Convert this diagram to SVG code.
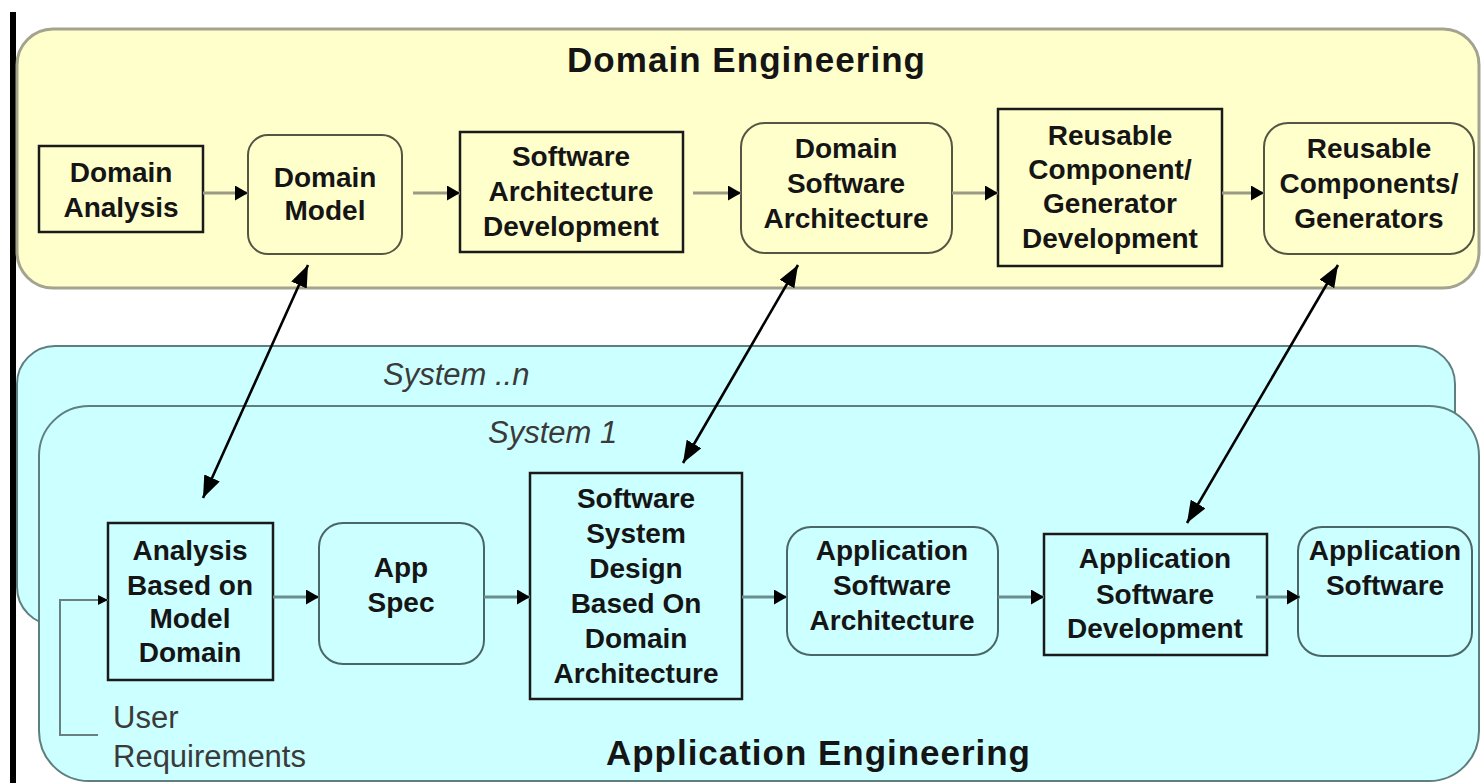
<svg xmlns="http://www.w3.org/2000/svg" width="1481" height="783" viewBox="0 0 1481 783">
<defs>
<style>
.lbl{font-family:"Liberation Sans",Arial,sans-serif;font-weight:bold;font-size:28px;fill:#151515;text-anchor:middle}
.title{font-family:"Liberation Sans",Arial,sans-serif;font-weight:bold;font-size:35px;fill:#151515}
.ital{font-family:"Liberation Sans",Arial,sans-serif;font-style:italic;font-size:31px;fill:#3a3a3a}
.req{font-family:"Liberation Sans",Arial,sans-serif;font-size:31px;fill:#3a3a3a}
.box{stroke:#1a1a1a;stroke-width:2.5}
.ybox{fill:#FFFFCC}
.cbox{fill:#CCFFFF}
.rnd{stroke:#555544;stroke-width:2}
.rndc{stroke:#4a6666;stroke-width:2}
.flowY{stroke:#9a9a86;stroke-width:3;fill:none}
.flowC{stroke:#6a8e8e;stroke-width:3;fill:none}
.bi{stroke:#000;stroke-width:2.6;fill:none}
</style>
<marker id="ah" viewBox="0 0 13 15" refX="13" refY="7.5" markerWidth="13" markerHeight="15" markerUnits="userSpaceOnUse" orient="auto"><path d="M0,0 L13,7.5 L0,15 z" fill="#000"/></marker>
<marker id="ahs" viewBox="0 0 10 10" refX="10" refY="5" markerWidth="10" markerHeight="10" markerUnits="userSpaceOnUse" orient="auto"><path d="M0,0 L10,5 L0,10 z" fill="#000"/></marker>
<marker id="big" viewBox="0 0 22 17" refX="22" refY="8.5" markerWidth="22" markerHeight="17" markerUnits="userSpaceOnUse" orient="auto-start-reverse"><path d="M0,0 L22,8.5 L0,17 z" fill="#000"/></marker>
</defs>
<rect width="1481" height="783" fill="#fff"/>
<rect x="10" y="12" width="6" height="771" fill="#000"/>

<g id="domain-engineering">
<rect x="17" y="29" width="1462" height="259" rx="36" ry="36" fill="#FFFFCC" stroke="#a3a38f" stroke-width="3"/>
<text class="title" x="567" y="72" textLength="358" lengthAdjust="spacing">Domain Engineering</text>
</g>

<g id="system-n">
<rect x="17" y="346" width="1438" height="279" rx="38" ry="38" fill="#CCFFFF" stroke="#5f7f7f" stroke-width="2"/>
<text class="ital" x="383" y="385">System ..n</text>
</g>

<g id="system-1">
<rect x="39" y="406" width="1440" height="375" rx="50" ry="50" fill="#CCFFFF" stroke="#5f7f7f" stroke-width="2"/>
<text class="ital" x="488" y="443">System 1</text>
<text class="title" x="606" y="765" textLength="424" lengthAdjust="spacing">Application Engineering</text>
</g>

<g id="domain-analysis">
<rect class="box ybox" x="39" y="146" width="164" height="86"/>
<text class="lbl" x="121" y="182">Domain</text>
<text class="lbl" x="121" y="217">Analysis</text>
</g>
<g id="domain-model">
<rect class="rnd ybox" x="248" y="135" width="154" height="119" rx="20"/>
<text class="lbl" x="325" y="187">Domain</text>
<text class="lbl" x="325" y="220">Model</text>
</g>
<g id="sw-arch-dev">
<rect class="box ybox" x="460" y="132" width="223" height="120"/>
<text class="lbl" x="571" y="166">Software</text>
<text class="lbl" x="571" y="201">Architecture</text>
<text class="lbl" x="571" y="236">Development</text>
</g>
<g id="domain-sw-arch">
<rect class="rnd ybox" x="741" y="123" width="211" height="130" rx="24"/>
<text class="lbl" x="846" y="158">Domain</text>
<text class="lbl" x="846" y="193">Software</text>
<text class="lbl" x="846" y="228">Architecture</text>
</g>
<g id="reusable-dev">
<rect class="box ybox" x="998" y="109" width="224" height="157"/>
<text class="lbl" x="1110" y="145">Reusable</text>
<text class="lbl" x="1110" y="179">Component/</text>
<text class="lbl" x="1110" y="213">Generator</text>
<text class="lbl" x="1110" y="248">Development</text>
</g>
<g id="reusable-components">
<rect class="rnd ybox" x="1264" y="123" width="210" height="131" rx="24"/>
<text class="lbl" x="1369" y="158">Reusable</text>
<text class="lbl" x="1369" y="193">Components/</text>
<text class="lbl" x="1369" y="228">Generators</text>
</g>

<g id="analysis-based">
<rect class="box cbox" x="108" y="523" width="165" height="157"/>
<text class="lbl" x="190" y="560">Analysis</text>
<text class="lbl" x="190" y="595">Based on</text>
<text class="lbl" x="190" y="628">Model</text>
<text class="lbl" x="190" y="662">Domain</text>
</g>
<g id="app-spec">
<rect class="rndc cbox" x="319" y="523" width="165" height="141" rx="24"/>
<text class="lbl" x="401" y="577">App</text>
<text class="lbl" x="401" y="612">Spec</text>
</g>
<g id="sw-system-design">
<rect class="box cbox" x="530" y="473" width="212" height="226"/>
<text class="lbl" x="636" y="508">Software</text>
<text class="lbl" x="636" y="543">System</text>
<text class="lbl" x="636" y="578">Design</text>
<text class="lbl" x="636" y="613">Based On</text>
<text class="lbl" x="636" y="648">Domain</text>
<text class="lbl" x="636" y="683">Architecture</text>
</g>
<g id="app-sw-arch">
<rect class="rndc cbox" x="787" y="527" width="211" height="128" rx="24"/>
<text class="lbl" x="892" y="560">Application</text>
<text class="lbl" x="892" y="595">Software</text>
<text class="lbl" x="892" y="630">Architecture</text>
</g>
<g id="app-sw-dev">
<rect class="box cbox" x="1044" y="534" width="223" height="121"/>
<text class="lbl" x="1155" y="568">Application</text>
<text class="lbl" x="1155" y="604">Software</text>
<text class="lbl" x="1155" y="638">Development</text>
</g>
<g id="app-sw">
<rect class="rndc cbox" x="1298" y="527" width="174" height="129" rx="24"/>
<text class="lbl" x="1385" y="560">Application</text>
<text class="lbl" x="1385" y="595">Software</text>
</g>

<g id="user-requirements">
<text class="req" x="113" y="728">User</text>
<text class="req" x="113" y="767">Requirements</text>
</g>

<g id="connectors">
<line class="flowY" x1="203" y1="193" x2="248" y2="193" marker-end="url(#ah)"/>
<line class="flowY" x1="413" y1="193" x2="460" y2="193" marker-end="url(#ah)"/>
<line class="flowY" x1="693" y1="193" x2="741" y2="193" marker-end="url(#ah)"/>
<line class="flowY" x1="952" y1="193" x2="998" y2="193" marker-end="url(#ah)"/>
<line class="flowY" x1="1222" y1="193" x2="1264" y2="193" marker-end="url(#ah)"/>

<line class="flowC" x1="273" y1="597" x2="319" y2="597" marker-end="url(#ah)"/>
<line class="flowC" x1="484" y1="597" x2="530" y2="597" marker-end="url(#ah)"/>
<line class="flowC" x1="742" y1="597" x2="787" y2="597" marker-end="url(#ah)"/>
<line class="flowC" x1="998" y1="597" x2="1044" y2="597" marker-end="url(#ah)"/>
<line class="flowC" x1="1256" y1="597" x2="1300" y2="597" marker-end="url(#ah)"/>

<path d="M98,735 H60 V600 H108" stroke="#6a8080" stroke-width="2" fill="none" marker-end="url(#ahs)"/>

<line class="bi" x1="308" y1="265" x2="203" y2="498" marker-start="url(#big)" marker-end="url(#big)"/>
<line class="bi" x1="798" y1="265" x2="683" y2="463" marker-start="url(#big)" marker-end="url(#big)"/>
<line class="bi" x1="1338" y1="265" x2="1187" y2="523" marker-start="url(#big)" marker-end="url(#big)"/>
</g>
</svg>
